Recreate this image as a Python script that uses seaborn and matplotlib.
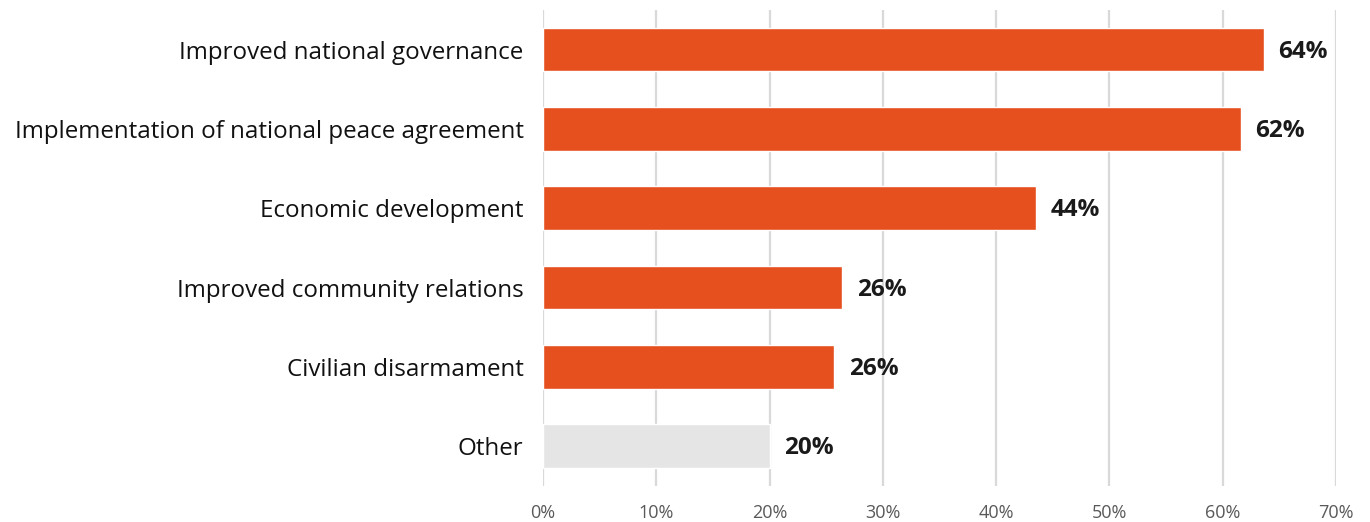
import matplotlib
matplotlib.use("Agg")
import matplotlib.pyplot as plt
import seaborn as sns
import pandas as pd

categories = [
    "Improved national governance",
    "Implementation of national peace agreement",
    "Economic development",
    "Improved community relations",
    "Civilian disarmament",
    "Other",
]
shares = [63.6, 61.6, 43.5, 26.4, 25.7, 20.0]
bar_colors = ["#E5501E", "#E5501E", "#E5501E", "#E5501E", "#E5501E", "#E5E5E5"]
x_ticks = [0, 10, 20, 30, 40, 50, 60, 70]
x_tick_labels = [f"{t}%" for t in x_ticks]

sns.set_theme(style="white")
plt.rcParams["font.family"] = ["Open Sans", "DejaVu Sans"]

df = pd.DataFrame({"category": categories, "share": shares})

fig = plt.figure(figsize=(13.7, 5.22), dpi=100)
ax = fig.add_axes([0.3964, 0.069, 0.9752 - 0.3964, 0.981 - 0.069])

sns.barplot(data=df, y="category", x="share", hue="category",
            palette=dict(zip(categories, bar_colors)), legend=False,
            width=0.55, ax=ax, zorder=3, saturation=1)

ax.set_xlim(0, 70)
ax.set_ylim(5.5, -0.5)
ax.set_xticks(x_ticks)
ax.set_xticklabels(x_tick_labels)
ax.grid(axis="x", color="#D9D9D9", linewidth=1.6, zorder=0)
ax.grid(axis="y", visible=False)
for s in ax.spines.values():
    s.set_visible(False)
ax.tick_params(axis="x", length=0, labelsize=13, labelcolor="#595959", pad=13)
ax.tick_params(axis="y", length=0, labelsize=17.4, labelcolor="#111111", pad=14)
ax.set_xlabel("")
ax.set_ylabel("")

for i, v in enumerate(shares):
    ax.annotate(f"{v:.0f}%", xy=(v, i), xytext=(10.5, -1.5), textcoords="offset points",
                va="center", ha="left", fontsize=17.5, fontweight="bold", color="#1A1A1A")

fig.savefig("out.png", dpi=100)
